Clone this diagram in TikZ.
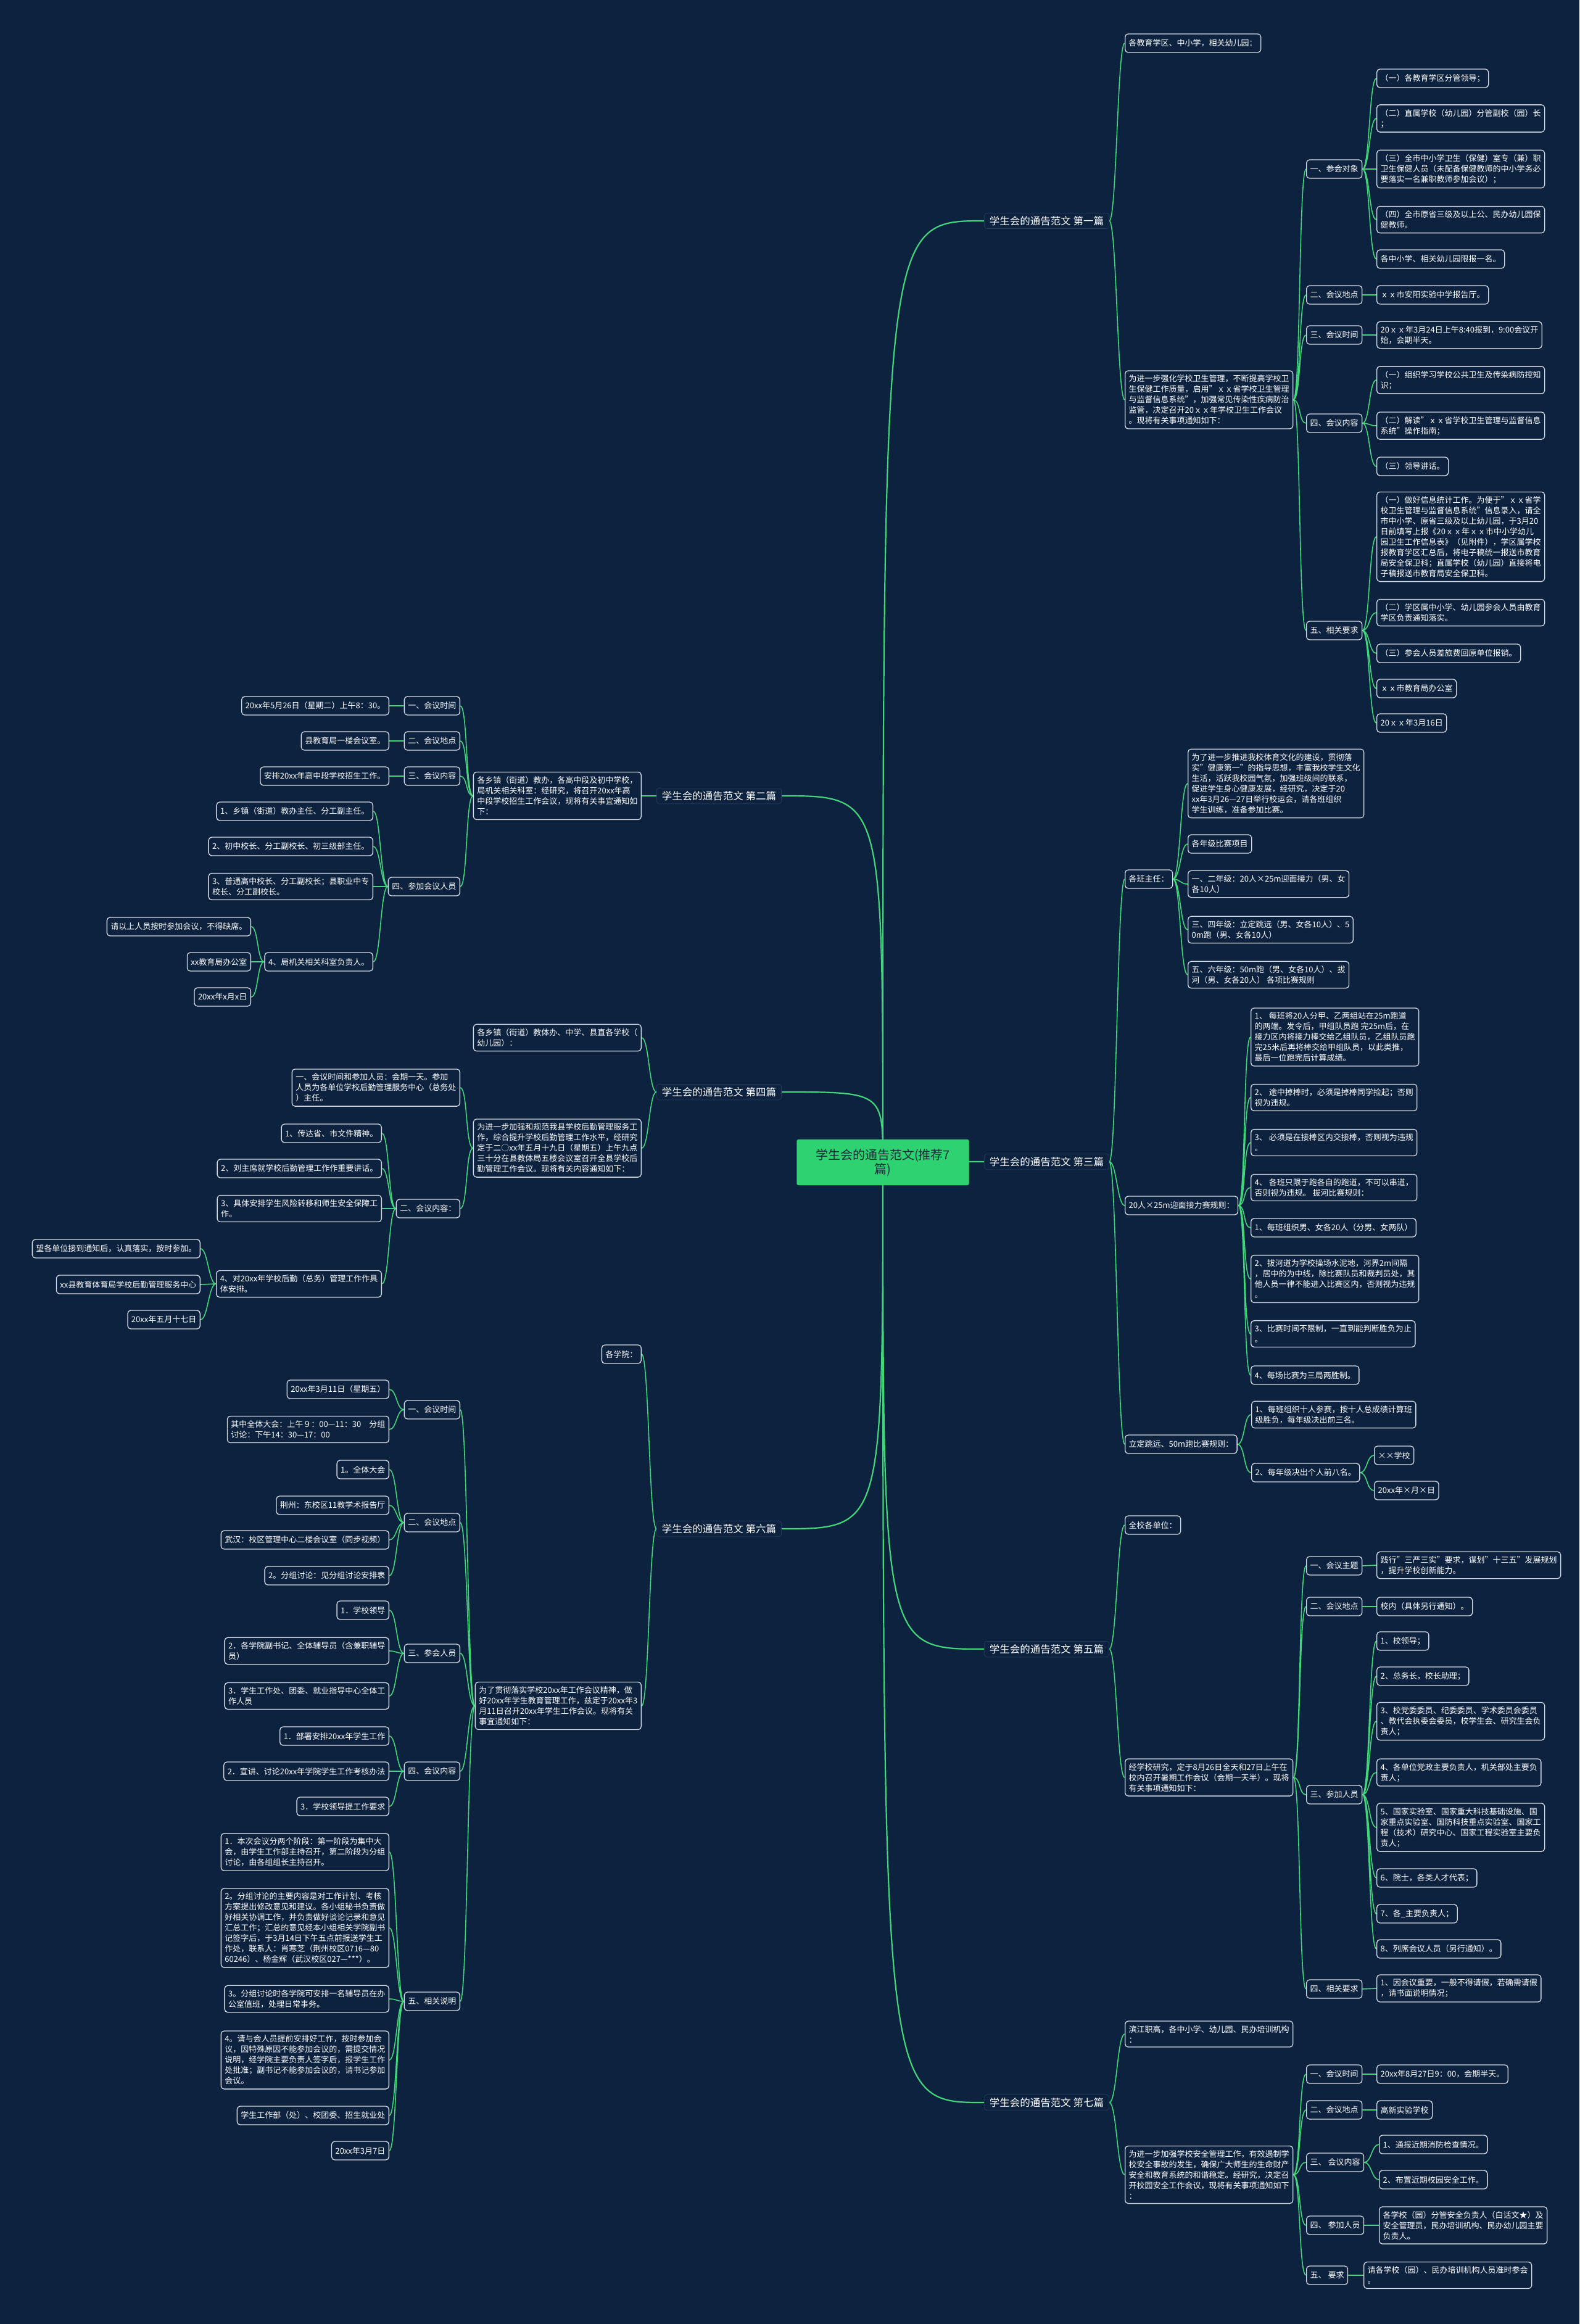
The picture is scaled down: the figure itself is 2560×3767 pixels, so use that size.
\documentclass[tikz,border=0pt]{standalone}
\usepackage{fontspec}
\setmainfont{Noto Sans CJK SC}
\definecolor{bgblue}{RGB}{12,34,62}
\definecolor{boxline}{RGB}{214,220,228}
\definecolor{mapgreen}{RGB}{66,214,122}
\definecolor{rootgreen}{RGB}{46,210,112}
\definecolor{roottext}{RGB}{25,45,60}
\definecolor{tagline}{RGB}{30,55,88}
\pgfdeclarelayer{back}
\pgfsetlayers{back,main}
\tikzset{
  leaf/.style={draw=boxline, fill=bgblue, text=white, line width=1.3pt, rounded corners=5pt,
    inner xsep=6pt, inner ysep=7pt, minimum height=30pt, align=left, font=\fontsize{13}{17}\selectfont},
  tag/.style={draw=tagline, fill=bgblue, text=white, line width=1pt, rounded corners=4pt,
    inner sep=5pt, minimum width=202pt, font=\fontsize{16.5}{19}\selectfont},
  hub/.style={fill=rootgreen, draw=rootgreen, text=roottext, rounded corners=3pt, minimum width=279pt,
    minimum height=74pt, align=center, font=\fontsize{20}{23}\selectfont},
  link/.style={draw=mapgreen, line width=1.6pt},
  trunk/.style={draw=mapgreen, line width=2.2pt},
  rgo/.style={out=0, in=180, out distance=12pt, in distance=12pt},
  lgo/.style={out=180, in=0, out distance=12pt, in distance=12pt}
}
\begin{document}
\begin{tikzpicture}[x=1pt,y=-1pt]
\path[use as bounding box] (0,0) rectangle (2560,3767);

\node[hub] (hub) at (1431,1884) {学生会的通告范文(推荐7\\篇)};

\node[tag,anchor=west] (p1) at (1595,358) {学生会的通告范文 第一篇};
\node[tag,anchor=west] (p3) at (1595,1883) {学生会的通告范文 第三篇};
\node[tag,anchor=west] (p5) at (1595,2673) {学生会的通告范文 第五篇};
\node[tag,anchor=west] (p7) at (1595,3408) {学生会的通告范文 第七篇};
\node[tag,anchor=east] (p2) at (1267,1290) {学生会的通告范文 第二篇};
\node[tag,anchor=east] (p4) at (1267,1770) {学生会的通告范文 第四篇};
\node[tag,anchor=east] (p6) at (1267,2478) {学生会的通告范文 第六篇};

% first
\node[leaf,anchor=west] (p1a) at (1823,70) {各教育学区、中小学，相关幼儿园：};
\node[leaf,anchor=west] (p1b) at (1823,648) {为进一步强化学校卫生管理，不断提高学校卫\\生保健工作质量，启用"ｘｘ省学校卫生管理\\与监督信息系统"，加强常见传染性疾病防治\\监管，决定召开20ｘｘ年学校卫生工作会议\\。现将有关事项通知如下：};
\node[leaf,anchor=west] (p1b1) at (2117,274) {一、参会对象};
\node[leaf,anchor=west] (p1b1a) at (2231,127) {（一）各教育学区分管领导；};
\node[leaf,anchor=west] (p1b1b) at (2231,192) {（二）直属学校（幼儿园）分管副校（园）长\\；};
\node[leaf,anchor=west] (p1b1c) at (2231,274) {（三）全市中小学卫生（保健）室专（兼）职\\卫生保健人员（未配备保健教师的中小学务必\\要落实一名兼职教师参加会议）；};
\node[leaf,anchor=west] (p1b1d) at (2231,356) {（四）全市原省三级及以上公、民办幼儿园保\\健教师。};
\node[leaf,anchor=west] (p1b1e) at (2231,420) {各中小学、相关幼儿园限报一名。};
\node[leaf,anchor=west] (p1b2) at (2117,478) {二、会议地点};
\node[leaf,anchor=west] (p1b2a) at (2231,478) {ｘｘ市安阳实验中学报告厅。};
\node[leaf,anchor=west] (p1b3) at (2117,543) {三、会议时间};
\node[leaf,anchor=west] (p1b3a) at (2231,543) {20ｘｘ年3月24日上午8:40报到，9:00会议开\\始，会期半天。};
\node[leaf,anchor=west] (p1b4) at (2117,686) {四、会议内容};
\node[leaf,anchor=west] (p1b4a) at (2231,616) {（一）组织学习学校公共卫生及传染病防控知\\识；};
\node[leaf,anchor=west] (p1b4b) at (2231,690) {（二）解读"ｘｘ省学校卫生管理与监督信息\\系统"操作指南；};
\node[leaf,anchor=west] (p1b4c) at (2231,756) {（三）领导讲话。};
\node[leaf,anchor=west] (p1b5) at (2117,1022) {五、相关要求};
\node[leaf,anchor=west] (p1b5a) at (2231,870) {（一）做好信息统计工作。为便于"ｘｘ省学\\校卫生管理与监督信息系统"信息录入，请全\\市中小学、原省三级及以上幼儿园，于3月20\\日前填写上报《20ｘｘ年ｘｘ市中小学幼儿\\园卫生工作信息表》（见附件），学区属学校\\报教育学区汇总后，将电子稿统一报送市教育\\局安全保卫科；直属学校（幼儿园）直接将电\\子稿报送市教育局安全保卫科。};
\node[leaf,anchor=west] (p1b5b) at (2231,993) {（二）学区属中小学、幼儿园参会人员由教育\\学区负责通知落实。};
\node[leaf,anchor=west] (p1b5c) at (2231,1059) {（三）参会人员差旅费回原单位报销。};
\node[leaf,anchor=west] (p1b5d) at (2231,1116) {ｘｘ市教育局办公室};
\node[leaf,anchor=west] (p1b5e) at (2231,1172) {20ｘｘ年3月16日};

% third
\node[leaf,anchor=west] (p3a) at (1823,1425) {各班主任：};
\node[leaf,anchor=west] (p3a1) at (1925,1270) {为了进一步推进我校体育文化的建设，贯彻落\\实"健康第一"的指导思想，丰富我校学生文化\\生活，活跃我校园气氛，加强班级间的联系，\\促进学生身心健康发展，经研究，决定于20\\xx年3月26—27日举行校运会，请各班组织\\学生训练，准备参加比赛。};
\node[leaf,anchor=west] (p3a2) at (1925,1368) {各年级比赛项目};
\node[leaf,anchor=west] (p3a3) at (1925,1433) {一、二年级：20人×25m迎面接力（男、女\\各10人）};
\node[leaf,anchor=west] (p3a4) at (1925,1507) {三、四年级：立定跳远（男、女各10人）、5\\0m跑（男、女各10人）};
\node[leaf,anchor=west] (p3a5) at (1925,1580) {五、六年级：50m跑（男、女各10人）、拔\\河（男、女各20人） 各项比赛规则};
\node[leaf,anchor=west] (p3b) at (1823,1954) {20人×25m迎面接力赛规则：};
\node[leaf,anchor=west] (p3b1) at (2027,1681) {1、 每班将20人分甲、乙两组站在25m跑道\\的两端。发令后，甲组队员跑 完25m后，在\\接力区内将接力棒交给乙组队员，乙组队员跑\\完25米后再将棒交给甲组队员，以此类推，\\最后一位跑完后计算成绩。};
\node[leaf,anchor=west] (p3b2) at (2027,1779) {2、 途中掉棒时，必须是掉棒同学捡起；否则\\视为违规。};
\node[leaf,anchor=west] (p3b3) at (2027,1852) {3、 必须是在接棒区内交接棒，否则视为违规\\。};
\node[leaf,anchor=west] (p3b4) at (2027,1925) {4、 各班只限于跑各自的跑道，不可以串道，\\否则视为违规。 拔河比赛规则：};
\node[leaf,anchor=west] (p3b5) at (2027,1990) {1、每班组织男、女各20人（分男、女两队）};
\node[leaf,anchor=west] (p3b6) at (2027,2073) {2、拔河道为学校操场水泥地，河界2m间隔\\，居中的为中线，除比赛队员和裁判员处，其\\他人员一律不能进入比赛区内，否则视为违规\\。};
\node[leaf,anchor=west] (p3b7) at (2027,2162) {3、比赛时间不限制，一直到能判断胜负为止\\。};
\node[leaf,anchor=west] (p3b8) at (2027,2229) {4、每场比赛为三局两胜制。};
\node[leaf,anchor=west] (p3c) at (1823,2341) {立定跳远、50m跑比赛规则：};
\node[leaf,anchor=west] (p3c1) at (2028,2293) {1、每班组织十人参赛，按十人总成绩计算班\\级胜负，每年级决出前三名。};
\node[leaf,anchor=west] (p3c2) at (2028,2387) {2、每年级决出个人前八名。};
\node[leaf,anchor=west] (p3c2a) at (2227,2359) {××学校};
\node[leaf,anchor=west] (p3c2b) at (2227,2416) {20xx年×月×日};

% fifth
\node[leaf,anchor=west] (p5a) at (1823,2472) {全校各单位：};
\node[leaf,anchor=west] (p5b) at (1823,2881) {经学校研究，定于8月26日全天和27日上午在\\校内召开暑期工作会议（会期一天半）。现将\\有关事项通知如下：};
\node[leaf,anchor=west] (p5b1) at (2117,2538) {一、会议主题};
\node[leaf,anchor=west] (p5b1a) at (2231,2537) {践行"三严三实"要求，谋划"十三五"发展规划\\，提升学校创新能力。};
\node[leaf,anchor=west] (p5b2) at (2117,2604) {二、会议地点};
\node[leaf,anchor=west] (p5b2a) at (2231,2604) {校内（具体另行通知）。};
\node[leaf,anchor=west] (p5b3) at (2117,2909) {三、参加人员};
\node[leaf,anchor=west] (p5b3a) at (2231,2660) {1、校领导；};
\node[leaf,anchor=west] (p5b3b) at (2231,2717) {2、总务长，校长助理；};
\node[leaf,anchor=west] (p5b3c) at (2231,2790) {3、校党委委员、纪委委员、学术委员会委员\\、教代会执委会委员，校学生会、研究生会负\\责人；};
\node[leaf,anchor=west] (p5b3d) at (2231,2873) {4、各单位党政主要负责人，机关部处主要负\\责人；};
\node[leaf,anchor=west] (p5b3e) at (2231,2962) {5、国家实验室、国家重大科技基础设施、国\\家重点实验室、国防科技重点实验室、国家工\\程（技术）研究中心、国家工程实验室主要负\\责人；};
\node[leaf,anchor=west] (p5b3f) at (2231,3044) {6、院士，各类人才代表；};
\node[leaf,anchor=west] (p5b3g) at (2231,3102) {7、各\_主要负责人；};
\node[leaf,anchor=west] (p5b3h) at (2231,3159) {8、列席会议人员（另行通知）。};
\node[leaf,anchor=west] (p5b4) at (2117,3224) {四、相关要求};
\node[leaf,anchor=west] (p5b4a) at (2231,3223) {1、因会议重要，一般不得请假，若确需请假\\，请书面说明情况；};

% seventh
\node[leaf,anchor=west] (p7a) at (1823,3297) {滨江职高，各中小学、幼儿园、民办培训机构\\：};
\node[leaf,anchor=west] (p7b) at (1823,3525) {为进一步加强学校安全管理工作，有效遏制学\\校安全事故的发生，确保广大师生的生命财产\\安全和教育系统的和谐稳定。经研究，决定召\\开校园安全工作会议，现将有关事项通知如下\\：};
\node[leaf,anchor=west] (p7b1) at (2117,3362) {一、会议时间};
\node[leaf,anchor=west] (p7b1a) at (2231,3362) {20xx年8月27日9：00，会期半天。};
\node[leaf,anchor=west] (p7b2) at (2117,3420) {二、会议地点};
\node[leaf,anchor=west] (p7b2a) at (2231,3420) {高新实验学校};
\node[leaf,anchor=west] (p7b3) at (2117,3505) {三、 会议内容};
\node[leaf,anchor=west] (p7b3a) at (2235,3476) {1、通报近期消防检查情况。};
\node[leaf,anchor=west] (p7b3b) at (2235,3533) {2、布置近期校园安全工作。};
\node[leaf,anchor=west] (p7b4) at (2117,3607) {四、 参加人员};
\node[leaf,anchor=west] (p7b4a) at (2235,3607) {各学校（园）分管安全负责人（白话文★）及\\安全管理员，民办培训机构、民办幼儿园主要\\负责人。};
\node[leaf,anchor=west] (p7b5) at (2117,3688) {五、 要求};
\node[leaf,anchor=west] (p7b5a) at (2210,3688) {请各学校（园）、民办培训机构人员准时参会\\。};

% second
\node[leaf,anchor=east] (p2a) at (1040,1290) {各乡镇（街道）教办，各高中段及初中学校，\\局机关相关科室：经研究，将召开20xx年高\\中段学校招生工作会议，现将有关事宜通知如\\下：};
\node[leaf,anchor=east] (p2a1) at (746,1144) {一、会议时间};
\node[leaf,anchor=east] (p2a1a) at (631,1144) {20xx年5月26日（星期二）上午8：30。};
\node[leaf,anchor=east] (p2a2) at (746,1201) {二、会议地点};
\node[leaf,anchor=east] (p2a2a) at (631,1201) {县教育局一楼会议室。};
\node[leaf,anchor=east] (p2a3) at (746,1258) {三、会议内容};
\node[leaf,anchor=east] (p2a3a) at (631,1258) {安排20xx年高中段学校招生工作。};
\node[leaf,anchor=east] (p2a4) at (746,1437) {四、参加会议人员};
\node[leaf,anchor=east] (p2a4a) at (605,1315) {1、乡镇（街道）教办主任、分工副主任。};
\node[leaf,anchor=east] (p2a4b) at (605,1372) {2、初中校长、分工副校长、初三级部主任。};
\node[leaf,anchor=east] (p2a4c) at (605,1437) {3、普通高中校长、分工副校长；县职业中专\\校长、分工副校长。};
\node[leaf,anchor=east] (p2a4d) at (605,1559) {4、局机关相关科室负责人。};
\node[leaf,anchor=east] (p2a4d1) at (407,1502) {请以上人员按时参加会议，不得缺席。};
\node[leaf,anchor=east] (p2a4d2) at (407,1559) {xx教育局办公室};
\node[leaf,anchor=east] (p2a4d3) at (407,1616) {20xx年x月x日};

% fourth
\node[leaf,anchor=east] (p4a) at (1040,1682) {各乡镇（街道）教体办、中学、县直各学校（\\幼儿园）：};
\node[leaf,anchor=east] (p4b) at (1040,1861) {为进一步加强和规范我县学校后勤管理服务工\\作，综合提升学校后勤管理工作水平，经研究\\定于二○xx年五月十九日（星期五）上午九点\\三十分在县教体局五楼会议室召开全县学校后\\勤管理工作会议。现将有关内容通知如下：};
\node[leaf,anchor=east] (p4b1) at (746,1763) {一、会议时间和参加人员：会期一天。参加\\人员为各单位学校后勤管理服务中心（总务处\\）主任。};
\node[leaf,anchor=east] (p4b2) at (746,1959) {二、会议内容：};
\node[leaf,anchor=east] (p4b2a) at (619,1837) {1、传达省、市文件精神。};
\node[leaf,anchor=east] (p4b2b) at (619,1894) {2、刘主席就学校后勤管理工作作重要讲话。};
\node[leaf,anchor=east] (p4b2c) at (619,1959) {3、具体安排学生风险转移和师生安全保障工\\作。};
\node[leaf,anchor=east] (p4b2d) at (619,2081) {4、对20xx年学校后勤（总务）管理工作作具\\体安排。};
\node[leaf,anchor=east] (p4b2d1) at (325,2024) {望各单位接到通知后，认真落实，按时参加。};
\node[leaf,anchor=east] (p4b2d2) at (325,2082) {xx县教育体育局学校后勤管理服务中心};
\node[leaf,anchor=east] (p4b2d3) at (325,2139) {20xx年五月十七日};

% sixth
\node[leaf,anchor=east] (p6a) at (1040,2195) {各学院：};
\node[leaf,anchor=east] (p6b) at (1040,2765) {为了贯彻落实学校20xx年工作会议精神，做\\好20xx年学生教育管理工作，兹定于20xx年3\\月11日召开20xx年学生工作会议。现将有关\\事宜通知如下：};
\node[leaf,anchor=east] (p6b1) at (746,2285) {一、会议时间};
\node[leaf,anchor=east] (p6b1a) at (631,2252) {20xx年3月11日（星期五）};
\node[leaf,anchor=east] (p6b1b) at (631,2317) {其中全体大会：上午９：00—11：30　分组\\讨论：下午14：30—17：00};
\node[leaf,anchor=east] (p6b2) at (746,2468) {二、会议地点};
\node[leaf,anchor=east] (p6b2a) at (631,2382) {1。全体大会};
\node[leaf,anchor=east] (p6b2b) at (631,2440) {荆州：东校区11教学术报告厅};
\node[leaf,anchor=east] (p6b2c) at (631,2496) {武汉：校区管理中心二楼会议室（同步视频）};
\node[leaf,anchor=east] (p6b2d) at (631,2554) {2。分组讨论：见分组讨论安排表};
\node[leaf,anchor=east] (p6b3) at (746,2680) {三、参会人员};
\node[leaf,anchor=east] (p6b3a) at (631,2610) {1．学校领导};
\node[leaf,anchor=east] (p6b3b) at (631,2676) {2．各学院副书记、全体辅导员（含兼职辅导\\员）};
\node[leaf,anchor=east] (p6b3c) at (631,2749) {3．学生工作处、团委、就业指导中心全体工\\作人员};
\node[leaf,anchor=east] (p6b4) at (746,2871) {四、会议内容};
\node[leaf,anchor=east] (p6b4a) at (631,2814) {1．部署安排20xx年学生工作};
\node[leaf,anchor=east] (p6b4b) at (631,2871) {2．宣讲、讨论20xx年学院学生工作考核办法};
\node[leaf,anchor=east] (p6b4c) at (631,2928) {3．学校领导提工作要求};
\node[leaf,anchor=east] (p6b5) at (746,3244) {五、相关说明};
\node[leaf,anchor=east] (p6b5a) at (631,3002) {1．本次会议分两个阶段：第一阶段为集中大\\会，由学生工作部主持召开，第二阶段为分组\\讨论，由各组组长主持召开。};
\node[leaf,anchor=east] (p6b5b) at (631,3125) {2。分组讨论的主要内容是对工作计划、考核\\方案提出修改意见和建议。各小组秘书负责做\\好相关协调工作，并负责做好谈论记录和意见\\汇总工作；汇总的意见经本小组相关学院副书\\记签字后，于3月14日下午五点前报送学生工\\作处，联系人：肖寒芝（荆州校区0716—80\\60246）、杨金辉（武汉校区027—***）。};
\node[leaf,anchor=east] (p6b5c) at (631,3240) {3。分组讨论时各学院可安排一名辅导员在办\\公室值班，处理日常事务。};
\node[leaf,anchor=east] (p6b5d) at (631,3339) {4。请与会人员提前安排好工作，按时参加会\\议，因特殊原因不能参加会议的，需提交情况\\说明，经学院主要负责人签字后，报学生工作\\处批准；副书记不能参加会议的，请书记参加\\会议。};
\node[leaf,anchor=east] (p6b5e) at (631,3429) {学生工作部（处）、校团委、招生就业处};
\node[leaf,anchor=east] (p6b5f) at (631,3486) {20xx年3月7日};

\begin{pgfonlayer}{back}
  \fill[bgblue] (0,0) rectangle (2560,3767);
  \draw[trunk]
    (hub.center) .. controls (hub.center |- p1.west) .. (p1.west)
    (hub.center) .. controls (hub.center |- p3.west) .. (p3.west)
    (hub.center) .. controls (hub.center |- p5.west) .. (p5.west)
    (hub.center) .. controls (hub.center |- p7.west) .. (p7.west)
    (hub.center) .. controls (hub.center |- p2.east) .. (p2.east)
    (hub.center) .. controls (hub.center |- p4.east) .. (p4.east)
    (hub.center) .. controls (hub.center |- p6.east) .. (p6.east);
  % right side
  \draw[link]
    (p1.east) to[rgo] (p1a.west)  (p1.east) to[rgo] (p1b.west)
    (p1b.east) to[rgo] (p1b1.west)  (p1b.east) to[rgo] (p1b2.west)
    (p1b.east) to[rgo] (p1b3.west)  (p1b.east) to[rgo] (p1b4.west)
    (p1b.east) to[rgo] (p1b5.west)
    (p1b1.east) to[rgo] (p1b1a.west)  (p1b1.east) to[rgo] (p1b1b.west)
    (p1b1.east) to[rgo] (p1b1c.west)  (p1b1.east) to[rgo] (p1b1d.west)
    (p1b1.east) to[rgo] (p1b1e.west)
    (p1b2.east) to[rgo] (p1b2a.west)
    (p1b3.east) to[rgo] (p1b3a.west)
    (p1b4.east) to[rgo] (p1b4a.west)  (p1b4.east) to[rgo] (p1b4b.west)
    (p1b4.east) to[rgo] (p1b4c.west)
    (p1b5.east) to[rgo] (p1b5a.west)  (p1b5.east) to[rgo] (p1b5b.west)
    (p1b5.east) to[rgo] (p1b5c.west)  (p1b5.east) to[rgo] (p1b5d.west)
    (p1b5.east) to[rgo] (p1b5e.west);
  \draw[link]
    (p3.east) to[rgo] (p3a.west)  (p3.east) to[rgo] (p3b.west)  (p3.east) to[rgo] (p3c.west)
    (p3a.east) to[rgo] (p3a1.west)  (p3a.east) to[rgo] (p3a2.west)  (p3a.east) to[rgo] (p3a3.west)
    (p3a.east) to[rgo] (p3a4.west)  (p3a.east) to[rgo] (p3a5.west)
    (p3b.east) to[rgo] (p3b1.west)  (p3b.east) to[rgo] (p3b2.west)  (p3b.east) to[rgo] (p3b3.west)
    (p3b.east) to[rgo] (p3b4.west)  (p3b.east) to[rgo] (p3b5.west)  (p3b.east) to[rgo] (p3b6.west)
    (p3b.east) to[rgo] (p3b7.west)  (p3b.east) to[rgo] (p3b8.west)
    (p3c.east) to[rgo] (p3c1.west)  (p3c.east) to[rgo] (p3c2.west)
    (p3c2.east) to[rgo] (p3c2a.west)  (p3c2.east) to[rgo] (p3c2b.west);
  \draw[link]
    (p5.east) to[rgo] (p5a.west)  (p5.east) to[rgo] (p5b.west)
    (p5b.east) to[rgo] (p5b1.west)  (p5b.east) to[rgo] (p5b2.west)
    (p5b.east) to[rgo] (p5b3.west)  (p5b.east) to[rgo] (p5b4.west)
    (p5b1.east) to[rgo] (p5b1a.west)
    (p5b2.east) to[rgo] (p5b2a.west)
    (p5b3.east) to[rgo] (p5b3a.west)  (p5b3.east) to[rgo] (p5b3b.west)
    (p5b3.east) to[rgo] (p5b3c.west)  (p5b3.east) to[rgo] (p5b3d.west)
    (p5b3.east) to[rgo] (p5b3e.west)  (p5b3.east) to[rgo] (p5b3f.west)
    (p5b3.east) to[rgo] (p5b3g.west)  (p5b3.east) to[rgo] (p5b3h.west)
    (p5b4.east) to[rgo] (p5b4a.west);
  \draw[link]
    (p7.east) to[rgo] (p7a.west)  (p7.east) to[rgo] (p7b.west)
    (p7b.east) to[rgo] (p7b1.west)  (p7b.east) to[rgo] (p7b2.west)
    (p7b.east) to[rgo] (p7b3.west)  (p7b.east) to[rgo] (p7b4.west)
    (p7b.east) to[rgo] (p7b5.west)
    (p7b1.east) to[rgo] (p7b1a.west)
    (p7b2.east) to[rgo] (p7b2a.west)
    (p7b3.east) to[rgo] (p7b3a.west)  (p7b3.east) to[rgo] (p7b3b.west)
    (p7b4.east) to[rgo] (p7b4a.west)
    (p7b5.east) to[rgo] (p7b5a.west);
  % left side
  \draw[link]
    (p2.west) to[lgo] (p2a.east)
    (p2a.west) to[lgo] (p2a1.east)  (p2a.west) to[lgo] (p2a2.east)
    (p2a.west) to[lgo] (p2a3.east)  (p2a.west) to[lgo] (p2a4.east)
    (p2a1.west) to[lgo] (p2a1a.east)
    (p2a2.west) to[lgo] (p2a2a.east)
    (p2a3.west) to[lgo] (p2a3a.east)
    (p2a4.west) to[lgo] (p2a4a.east)  (p2a4.west) to[lgo] (p2a4b.east)
    (p2a4.west) to[lgo] (p2a4c.east)  (p2a4.west) to[lgo] (p2a4d.east)
    (p2a4d.west) to[lgo] (p2a4d1.east)  (p2a4d.west) to[lgo] (p2a4d2.east)
    (p2a4d.west) to[lgo] (p2a4d3.east);
  \draw[link]
    (p4.west) to[lgo] (p4a.east)  (p4.west) to[lgo] (p4b.east)
    (p4b.west) to[lgo] (p4b1.east)  (p4b.west) to[lgo] (p4b2.east)
    (p4b2.west) to[lgo] (p4b2a.east)  (p4b2.west) to[lgo] (p4b2b.east)
    (p4b2.west) to[lgo] (p4b2c.east)  (p4b2.west) to[lgo] (p4b2d.east)
    (p4b2d.west) to[lgo] (p4b2d1.east)  (p4b2d.west) to[lgo] (p4b2d2.east)
    (p4b2d.west) to[lgo] (p4b2d3.east);
  \draw[link]
    (p6.west) to[lgo] (p6a.east)  (p6.west) to[lgo] (p6b.east)
    (p6b.west) to[lgo] (p6b1.east)  (p6b.west) to[lgo] (p6b2.east)
    (p6b.west) to[lgo] (p6b3.east)  (p6b.west) to[lgo] (p6b4.east)
    (p6b.west) to[lgo] (p6b5.east)
    (p6b1.west) to[lgo] (p6b1a.east)  (p6b1.west) to[lgo] (p6b1b.east)
    (p6b2.west) to[lgo] (p6b2a.east)  (p6b2.west) to[lgo] (p6b2b.east)
    (p6b2.west) to[lgo] (p6b2c.east)  (p6b2.west) to[lgo] (p6b2d.east)
    (p6b3.west) to[lgo] (p6b3a.east)  (p6b3.west) to[lgo] (p6b3b.east)
    (p6b3.west) to[lgo] (p6b3c.east)
    (p6b4.west) to[lgo] (p6b4a.east)  (p6b4.west) to[lgo] (p6b4b.east)
    (p6b4.west) to[lgo] (p6b4c.east)
    (p6b5.west) to[lgo] (p6b5a.east)  (p6b5.west) to[lgo] (p6b5b.east)
    (p6b5.west) to[lgo] (p6b5c.east)  (p6b5.west) to[lgo] (p6b5d.east)
    (p6b5.west) to[lgo] (p6b5e.east)  (p6b5.west) to[lgo] (p6b5f.east);
\end{pgfonlayer}
\end{tikzpicture}
\end{document}
